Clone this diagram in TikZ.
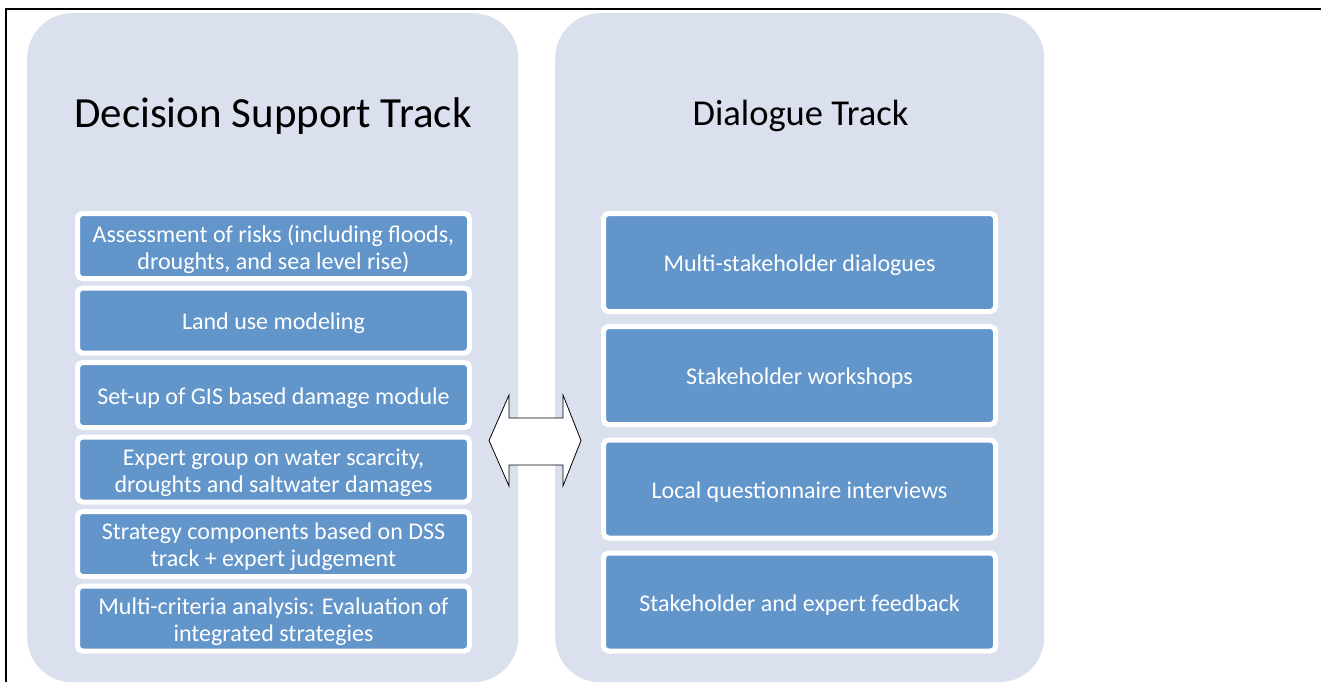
\documentclass[tikz,border=0pt]{standalone}
\usepackage{fontspec}
\setmainfont{Carlito}
\definecolor{panelfill}{RGB}{218,224,238}
\definecolor{boxfill}{RGB}{98,149,202}
\tikzset{
  panel/.style={rectangle, fill=panelfill, draw=none, rounded corners=45pt, inner sep=0pt, anchor=north west},
  boxlabel/.style={text=white, align=center, inner sep=0pt, yshift=-3pt, font=\fontsize{24}{27}\selectfont},
  taskbox/.style={rectangle, rounded corners=5pt, fill=boxfill, draw=white, line width=5pt, minimum width=392pt, inner sep=0pt,
    label={[boxlabel]center:{#1}}},
  leftbox/.style={taskbox={#1}, minimum height=65pt},
  rightbox/.style={taskbox={#1}, minimum height=98pt},
  bigtitle/.style={anchor=base, text=black, inner sep=0pt},
  framestyle/.style={draw=black, line width=2pt, line join=miter},
  twoway/.style={draw=black, fill=white, line width=0.8pt, line join=miter}
}
\begin{document}
\begin{tikzpicture}[x=1pt, y=-1pt]
\useasboundingbox (0,0) rectangle (1321,682);
% outer frame (top and left only visible)
\coordinate (fbl) at (6,682);
\coordinate (ftl) at (6,9);
\coordinate (ftr) at (1321,9);
\draw[framestyle] (fbl) -- (ftl) -- (ftr);
% panels
\node[panel, minimum width=491pt, minimum height=669pt] (dst) at (27,13) {};
\node[panel, minimum width=489pt, minimum height=669pt] (dlg) at (555,13) {};
% titles
\node[bigtitle, font=\fontsize{43}{50}\selectfont] (t1) at (273,128) {Decision Support Track};
\node[bigtitle, font=\fontsize{36.5}{42}\selectfont] (t2) at (800.5,125) {Dialogue Track};
% left boxes
\node[leftbox={Assessment of risks (including floods,\\droughts, and sea level rise)}] (l1) at (273.5,246) {};
\node[leftbox={Land use modeling}] (l2) at (273.5,320.5) {};
\node[leftbox={Set-up of GIS based damage module}] (l3) at (273.5,395) {};
\node[leftbox={Expert group on water scarcity,\\droughts and saltwater damages}] (l4) at (273.5,469.5) {};
\node[leftbox={Strategy components based on DSS\\track + expert judgement}] (l5) at (273.5,544) {};
\node[leftbox={Multi-criteria analysis: Evaluation of\\integrated strategies}] (l6) at (273.5,618.5) {};
% right boxes
\node[rightbox={Multi-stakeholder dialogues}] (r1) at (799.5,262.5) {};
\node[rightbox={Stakeholder workshops}] (r2) at (799.5,375.5) {};
\node[rightbox={Local questionnaire interviews}] (r3) at (799.5,489) {};
\node[rightbox={Stakeholder and expert feedback}] (r4) at (799.5,602) {};
% double arrow between the tracks
\coordinate (ac) at (535,440.5);
\draw[twoway] ([xshift=-46pt]ac) -- ([xshift=-26pt,yshift=-45.5pt]ac) -- ([xshift=-26pt,yshift=-24.5pt]ac)
  -- ([xshift=28pt,yshift=-24.5pt]ac) -- ([xshift=28pt,yshift=-45.5pt]ac) -- ([xshift=46pt]ac)
  -- ([xshift=28pt,yshift=45.5pt]ac) -- ([xshift=28pt,yshift=22.5pt]ac) -- ([xshift=-26pt,yshift=22.5pt]ac)
  -- ([xshift=-26pt,yshift=45.5pt]ac) -- cycle;
\end{tikzpicture}
\end{document}
